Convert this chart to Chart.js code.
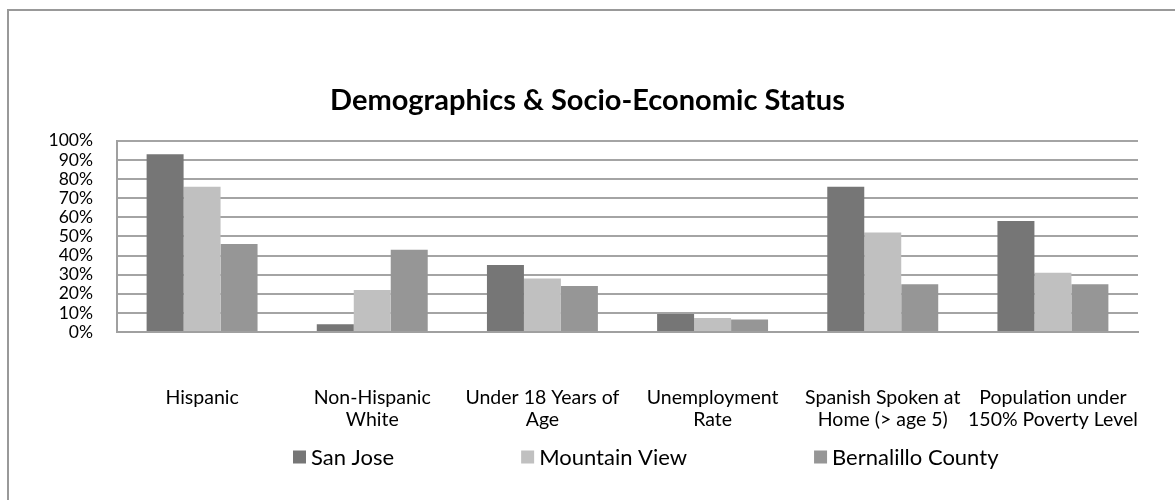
<!DOCTYPE html>
<html>
<head>
<meta charset="utf-8">
<script src="https://cdn.jsdelivr.net/npm/chart.js@4.4.1/dist/chart.umd.min.js"></script>
<style>
  html, body { margin: 0; padding: 0; background: #fff; }
  #wrap { width: 1175px; height: 500px; position: relative; }
</style>
</head>
<body>
<div id="wrap"><canvas id="c" width="1175" height="500"></canvas></div>
<script>
const categories = [
  ["Hispanic"],
  ["Non-Hispanic", "White"],
  ["Under 18 Years of", "Age"],
  ["Unemployment", "Rate"],
  ["Spanish Spoken at", "Home (> age 5)"],
  ["Population under", "150% Poverty Level"]
];
const seriesNames = ["San Jose", "Mountain View", "Bernalillo County"];
const sanJose = [93, 4, 35, 9.4, 76, 58];
const mountainView = [76, 22, 28, 7.3, 52, 31];
const bernalillo = [46, 43, 24, 6.6, 25, 25];
const tickLabels = ["0%", "10%", "20%", "30%", "40%", "50%", "60%", "70%", "80%", "90%", "100%"];
const title = "Demographics & Socio-Economic Status";

const colors = ["#767676", "#c0c0c0", "#969696"];
const FONT = "Lato";

const bgBorder = {
  id: 'bgBorder',
  beforeDraw(chart) {
    const ctx = chart.ctx;
    ctx.save();
    ctx.fillStyle = '#fff';
    ctx.fillRect(0, 0, chart.width, chart.height);
    ctx.strokeStyle = '#999999';
    ctx.lineWidth = 2;
    ctx.strokeRect(8, 10, chart.width + 50, chart.height + 50);
    ctx.restore();
  }
};

const customLegend = {
  id: 'customLegend',
  afterDraw(chart) {
    const ctx = chart.ctx;
    ctx.save();
    ctx.font = '22px ' + FONT;
    ctx.textBaseline = 'middle';
    const box = 13, gapBox = 5, gapItem = 127;
    const ds = chart.data.datasets;
    let x = 293;
    const y = 457;
    ds.forEach((d, i) => {
      ctx.fillStyle = d.backgroundColor;
      ctx.fillRect(x, y - box / 2, box, box);
      ctx.fillStyle = '#000';
      ctx.fillText(d.label, x + box + gapBox, y + 1);
      x += box + gapBox + ctx.measureText(d.label).width + gapItem;
    });
    ctx.restore();
  }
};

new Chart(document.getElementById('c'), {
  type: 'bar',
  data: {
    labels: categories,
    datasets: [
      { label: seriesNames[0], data: sanJose, backgroundColor: colors[0] },
      { label: seriesNames[1], data: mountainView, backgroundColor: colors[1] },
      { label: seriesNames[2], data: bernalillo, backgroundColor: colors[2] }
    ]
  },
  options: {
    responsive: false,
    animation: false,
    devicePixelRatio: 1,
    layout: { padding: { left: 37, right: 37, top: 0, bottom: 0 } },
    datasets: { bar: { categoryPercentage: 0.652, barPercentage: 1.0 } },
    plugins: {
      legend: { display: false },
      tooltip: { enabled: false },
      title: {
        display: true,
        text: title,
        color: '#000',
        font: { family: FONT, size: 29, weight: 'bold', lineHeight: 1.2 },
        padding: { top: 83, bottom: 23 }
      }
    },
    scales: {
      x: {
        grid: { display: false, drawTicks: false },
        border: { display: true, color: '#a0a0a0', width: 2 },
        ticks: {
          color: '#000',
          font: { family: FONT, size: 19.5, lineHeight: 1.13 },
          maxRotation: 0, minRotation: 0, autoSkip: false,
          padding: 55
        },
        afterFit(scale) { scale.height = 168; scale.paddingLeft = 0; scale.paddingRight = 0; }
      },
      y: {
        min: 0, max: 100,
        afterBuildTicks(scale) { scale.ticks = tickLabels.map((t, i) => ({ value: i * 10 })); },
        ticks: {
          stepSize: 10,
          autoSkip: false,
          color: '#000',
          font: { family: FONT, size: 17.5 },
          padding: 24,
          callback: (v, i) => tickLabels[i]
        },
        grid: { color: '#a4a4a4', lineWidth: 2, drawTicks: false },
        border: { display: true, color: '#a0a0a0', width: 2 },
        afterFit(scale) { scale.width = 80; }
      }
    }
  },
  plugins: [bgBorder, customLegend]
});
</script>
</body>
</html>
